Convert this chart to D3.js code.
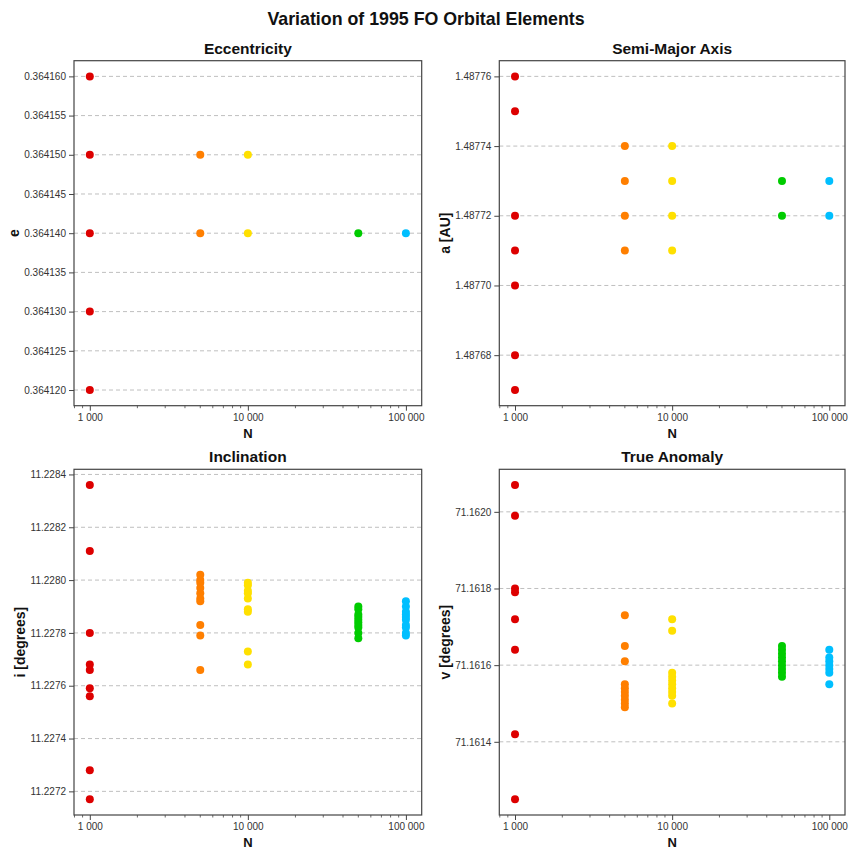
<!DOCTYPE html>
<html><head><meta charset="utf-8">
<script src="https://cdn.jsdelivr.net/npm/d3@7"></script>
<style>body{margin:0;background:#fff}svg{font-family:"Liberation Sans",Arial,sans-serif}</style>
</head><body>
<svg id="c" width="850" height="849"></svg>
<script>
const title = "Variation of 1995 FO Orbital Elements";
const Ns = [1000, 5000, 10000, 50000, 100000];
const colors = ["#dd0000", "#ff7f00", "#ffe000", "#00cc00", "#00bfff"];
const xTicks = [1000, 10000, 100000];

const eccentricity = [
  [0.364160, 0.364150, 0.364140, 0.364130, 0.364120],
  [0.364150, 0.364140],
  [0.364150, 0.364140],
  [0.364140],
  [0.364140]
];
const semiMajor = [
  [1.48776, 1.48775, 1.48772, 1.48771, 1.48770, 1.48768, 1.48767],
  [1.48774, 1.48773, 1.48772, 1.48771],
  [1.48774, 1.48773, 1.48772, 1.48771],
  [1.48773, 1.48772],
  [1.48773, 1.48772]
];
const inclination = [
  [11.22836, 11.22811, 11.22780, 11.22768, 11.22766, 11.22759, 11.22756, 11.22728, 11.22717],
  [11.22802, 11.22800, 11.22799, 11.22797, 11.22795, 11.22793, 11.22792, 11.22783, 11.22779, 11.22766],
  [11.22799, 11.22798, 11.22796, 11.22795, 11.22793, 11.22789, 11.22788, 11.22773, 11.22768],
  [11.22790, 11.22789, 11.22787, 11.22786, 11.22785, 11.22784, 11.22783, 11.22782, 11.22780, 11.22778],
  [11.22792, 11.22790, 11.22788, 11.22787, 11.22786, 11.22785, 11.22783, 11.22782, 11.22780, 11.22779]
];
const trueAnomaly = [
  [71.16207, 71.16199, 71.16180, 71.16179, 71.16172, 71.16164, 71.16142, 71.16125],
  [71.16173, 71.16165, 71.16161, 71.16155, 71.16154, 71.16153, 71.16152, 71.16151, 71.16150, 71.16149],
  [71.16172, 71.16169, 71.16158, 71.16157, 71.16156, 71.16155, 71.16154, 71.16153, 71.16152, 71.16150],
  [71.16165, 71.16164, 71.16163, 71.16162, 71.16161, 71.16160, 71.16159, 71.16158, 71.16157],
  [71.16164, 71.16162, 71.16161, 71.16160, 71.16159, 71.16158, 71.16155]
];

const panels = [
  {title: "Eccentricity", ylabel: "e", data: eccentricity, step: 0.000005, dec: 6},
  {title: "Semi-Major Axis", ylabel: "a [AU]", data: semiMajor, step: 0.00002, dec: 5},
  {title: "Inclination", ylabel: "i [degrees]", data: inclination, step: 0.0002, dec: 4},
  {title: "True Anomaly", ylabel: "v [degrees]", data: trueAnomaly, step: 0.0002, dec: 4}
];

const boxes = [
  {x0: 74, x1: 421.7, y0: 60.7, y1: 405.7, lab: 60},
  {x0: 499.3, x1: 845, y0: 60.7, y1: 405.7, lab: 54},
  {x0: 74, x1: 421.7, y0: 469.3, y1: 815, lab: 54},
  {x0: 499.3, x1: 845, y0: 469.3, y1: 815, lab: 54}
];

const svg = d3.select("#c");
svg.append("text").attr("x", 426).attr("y", 25).attr("text-anchor", "middle")
  .attr("font-size", 17.8).attr("font-weight", "bold").attr("fill", "#111").text(title);

const fmtN = v => d3.format(",")(v).replace(/,/g, " ");

panels.forEach((p, i) => {
  const b = boxes[i];
  const g = svg.append("g");
  const lx = Math.log10(Ns[0]), hx = Math.log10(Ns[Ns.length - 1]);
  const mx = (hx - lx) * 0.05;
  const x = d3.scaleLog().domain([Math.pow(10, lx - mx), Math.pow(10, hx + mx)]).range([b.x0, b.x1]);
  const all = p.data.flat();
  const lo = d3.min(all), hi = d3.max(all), my = (hi - lo) * 0.05;
  const y = d3.scaleLinear().domain([lo - my, hi + my]).range([b.y1, b.y0]);

  const yt = [];
  const k0 = Math.ceil((lo - my) / p.step - 1e-6), k1 = Math.floor((hi + my) / p.step + 1e-6);
  for (let k = k0; k <= k1; k++) yt.push(+(k * p.step).toFixed(p.dec + 2));

  // grid
  g.append("g").selectAll("line").data(yt).join("line")
    .attr("x1", b.x0).attr("x2", b.x1).attr("y1", d => y(d)).attr("y2", d => y(d))
    .attr("stroke", "#b8b8b8").attr("stroke-width", 0.9).attr("stroke-dasharray", "4,3");

  // points
  p.data.forEach((vals, j) => {
    g.append("g").selectAll("circle").data(vals).join("circle")
      .attr("cx", x(Ns[j])).attr("cy", d => y(d)).attr("r", 4)
      .attr("fill", colors[j]);
  });

  // frame
  g.append("rect").attr("x", b.x0).attr("y", b.y0).attr("width", b.x1 - b.x0).attr("height", b.y1 - b.y0)
    .attr("fill", "none").attr("stroke", "#444").attr("stroke-width", 1.2);

  // y axis
  const ya = d3.axisLeft(y).tickValues(yt).tickSize(5).tickPadding(3).tickFormat(d => d.toFixed(p.dec));
  const yg = g.append("g").attr("transform", `translate(${b.x0},0)`).call(ya);
  yg.select(".domain").remove();
  yg.selectAll("text").attr("font-size", 10).attr("fill", "#333").attr("font-family", "Liberation Sans, Arial, sans-serif");
  yg.selectAll("line").attr("stroke", "#444");

  // x axis major
  const xa = d3.axisBottom(x).tickValues(xTicks).tickSize(5).tickPadding(3).tickFormat(fmtN);
  const xg = g.append("g").attr("transform", `translate(0,${b.y1})`).call(xa);
  xg.select(".domain").remove();
  xg.selectAll("text").attr("font-size", 10).attr("fill", "#333").attr("font-family", "Liberation Sans, Arial, sans-serif");
  xg.selectAll("line").attr("stroke", "#444");
  // minor ticks
  const dom = x.domain();
  const minors = x.ticks().filter(t => t >= dom[0] && t <= dom[1] && !xTicks.includes(t));
  g.append("g").selectAll("line").data(minors).join("line")
    .attr("x1", d => x(d)).attr("x2", d => x(d)).attr("y1", b.y1).attr("y2", b.y1 + 2.5)
    .attr("stroke", "#444").attr("stroke-width", 0.8);

  // titles and labels
  const cx = (b.x0 + b.x1) / 2;
  g.append("text").attr("x", cx).attr("y", b.y0 - 7).attr("text-anchor", "middle")
    .attr("font-size", 15.5).attr("font-weight", "bold").attr("fill", "#111").text(p.title);
  g.append("text").attr("x", cx).attr("y", b.y1 + 32).attr("text-anchor", "middle")
    .attr("font-size", 13).attr("font-weight", "bold").attr("fill", "#111").text("N");
  g.append("text").attr("transform", `translate(${b.x0 - b.lab + 5},${(b.y0 + b.y1) / 2}) rotate(-90)`)
    .attr("text-anchor", "middle").attr("font-size", 14).attr("font-weight", "bold").attr("fill", "#111").text(p.ylabel);
});
</script>
</body></html>
